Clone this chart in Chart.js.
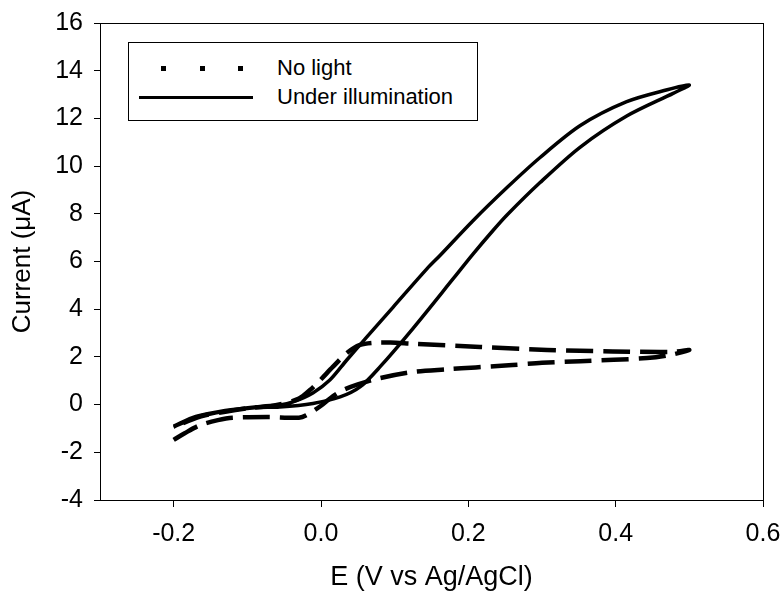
<!DOCTYPE html>
<html>
<head>
<meta charset="utf-8">
<script src="https://cdn.jsdelivr.net/npm/chart.js@4.4.1/dist/chart.umd.min.js"></script>
<style>
    html, body { margin: 0; padding: 0; background: #fff; }
    #wrap { position: relative; width: 784px; height: 596px; }
    #legend {
        position: absolute; left: 128px; top: 42px; width: 350px; height: 79px;
        border: 1px solid #000; background: #fff; box-sizing: border-box;
        font-family: "Liberation Sans", Arial, sans-serif; font-size: 22px; color: #000;
    }
    .row { position: absolute; left: 0; height: 26px; line-height: 26px; }
    .row span { position: absolute; left: 148px; white-space: nowrap; }
    .dot { position: absolute; width: 5px; height: 5px; background: #000; top: 11px; }
    .solid { position: absolute; left: 10px; width: 114px; height: 3px; background: #000; top: 12px; }
</style>
</head>
<body>
<div id="wrap">
    <canvas id="cvChart" width="784" height="596"></canvas>
    <div id="legend">
        <div class="row" style="top:12px">
            <div class="dot" style="left:32px"></div>
            <div class="dot" style="left:71px"></div>
            <div class="dot" style="left:109px"></div>
            <span>No light</span>
        </div>
        <div class="row" style="top:41px">
            <div class="solid"></div>
            <span>Under illumination</span>
        </div>
    </div>
</div>
<script>
// valores (E en V vs Ag/AgCl, corriente en uA)
const darkPotential = [-0.20, -0.185, -0.164, -0.14, -0.12, -0.073, -0.03, -0.02, 0.0, 0.016, 0.03, 0.05, 0.08, 0.125, 0.171, 0.21, 0.26, 0.30, 0.352, 0.4425, 0.474, 0.50,
    0.478, 0.396, 0.307, 0.216, 0.125, 0.094, 0.075, 0.053, 0.035, 0.016, -0.001, -0.015, -0.03, -0.06, -0.096, -0.13, -0.164, -0.20];
const darkCurrent = [-1.48, -1.20, -0.86, -0.65, -0.55, -0.52, -0.55, -0.45, -0.05, 0.35, 0.61, 0.85, 1.11, 1.37, 1.48, 1.56, 1.66, 1.75, 1.82, 1.95, 2.08, 2.29,
    2.21, 2.23, 2.29, 2.42, 2.55, 2.60, 2.60, 2.50, 2.16, 1.58, 1.03, 0.61, 0.25, -0.02, -0.14, -0.30, -0.50, -0.94];

const lightPotential = [-0.20, -0.17, -0.13, -0.09, -0.056, -0.011, 0.026, 0.053, 0.08, 0.125, 0.18, 0.206, 0.2335, 0.2525, 0.297, 0.352, 0.415, 0.478, 0.50,
    0.47, 0.415, 0.352, 0.297, 0.2525, 0.206, 0.1615, 0.144, 0.098, 0.062, 0.035, 0.012, -0.011, -0.038, -0.056, -0.09, -0.13, -0.17, -0.20];
const lightCurrent = [-0.94, -0.55, -0.28, -0.13, -0.10, 0.05, 0.32, 0.74, 1.58, 3.20, 5.30, 6.30, 7.30, 7.95, 9.30, 10.80, 12.10, 13.05, 13.40,
    13.20, 12.70, 11.70, 10.35, 9.10, 7.70, 6.25, 5.70, 4.09, 2.83, 1.87, 1.03, 0.49, 0.11, -0.02, -0.10, -0.25, -0.50, -0.90];

const xTicks = [-0.2, 0.0, 0.2, 0.4, 0.6];
const yTicks = [-4, -2, 0, 2, 4, 6, 8, 10, 12, 14, 16];

const toPoints = (xs, ys) => xs.map((x, i) => ({ x: x, y: ys[i] }));

const family = '"Liberation Sans", Arial, sans-serif';
const tickFont = { family: family, size: 25 };
const xTitleFont = { family: family, size: 27 };
const yTitleFont = { family: family, size: 26 };

// marco del area de trazado
const framePlugin = {
    id: 'frame',
    afterDraw(chart) {
        const a = chart.chartArea;
        const ctx = chart.ctx;
        ctx.save();
        ctx.strokeStyle = '#000';
        ctx.lineWidth = 1;
        ctx.strokeRect(Math.round(a.left) + 0.5, Math.round(a.top) + 0.5, Math.round(a.right - a.left), Math.round(a.bottom - a.top));
        ctx.restore();
    }
};

const ctx = document.getElementById('cvChart').getContext('2d');
new Chart(ctx, {
    type: 'scatter',
    data: {
        datasets: [{
            label: 'No light',
            data: toPoints(darkPotential, darkCurrent),
            showLine: true,
            borderColor: '#000',
            borderWidth: 4.5,
            borderDash: [27, 10],
            tension: 0.3,
            pointRadius: 0
        }, {
            label: 'Under illumination',
            data: toPoints(lightPotential, lightCurrent),
            showLine: true,
            borderColor: '#000',
            borderWidth: 3.5,
            tension: 0.3,
            pointRadius: 0
        }]
    },
    options: {
        responsive: false,
        animation: false,
        devicePixelRatio: 1,
        layout: { padding: { top: 23, right: 21, left: 0, bottom: 0 } },
        plugins: { legend: { display: false }, tooltip: { enabled: false } },
        scales: {
            x: {
                type: 'linear',
                min: -0.3,
                max: 0.6,
                afterFit: s => { s.height = 96; s.paddingLeft = 0; s.paddingRight = 0; },
                afterBuildTicks: s => { s.ticks = xTicks.map(v => ({ value: v })); },
                ticks: { color: '#000', font: tickFont, padding: 12, maxRotation: 0, callback: v => v.toFixed(1) },
                grid: { drawOnChartArea: false, color: '#000', tickLength: 7 },
                border: { color: '#000' },
                title: { display: true, text: 'E (V vs Ag/AgCl)', color: '#000', font: xTitleFont, padding: { top: 0, bottom: 2 } }
            },
            y: {
                min: -4,
                max: 16,
                afterFit: s => { s.width = 100; s.paddingTop = 0; s.paddingBottom = 0; },
                afterBuildTicks: s => { s.ticks = yTicks.map(v => ({ value: v })); },
                ticks: { color: '#000', font: tickFont, padding: 11 },
                grid: { drawOnChartArea: false, color: '#000', tickLength: 6 },
                border: { color: '#000' },
                title: { display: true, text: 'Current (μA)', color: '#000', font: yTitleFont, padding: { top: 7, bottom: 0 } }
            }
        }
    },
    plugins: [framePlugin]
});
</script>
</body>
</html>
